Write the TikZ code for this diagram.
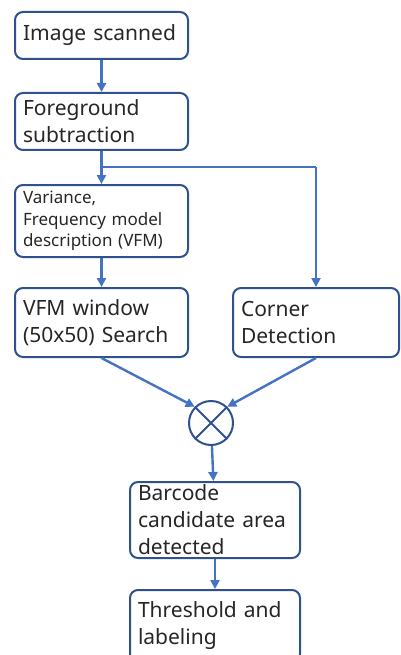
\documentclass[tikz,border=0pt]{standalone}
\usepackage{fontspec}
\setmainfont{Noto Sans}
\usetikzlibrary{arrows.meta,shapes.misc}
\definecolor{boxline}{RGB}{47,82,143}
\definecolor{arrowline}{RGB}{68,114,196}

\begin{document}
\begin{tikzpicture}[x=1pt,y=-1pt]
        \tikzstyle{every node}+=[inner sep=0pt]
        \tikzstyle{stage}=[draw=boxline, line width=2pt, rounded corners=8pt, align=left, inner xsep=8pt, font=\fontsize{21}{27}\selectfont, text=black!85]
        \tikzstyle{flow}=[draw=arrowline, line width=2.4pt, -{Triangle[length=9pt,width=9pt]}]
        \useasboundingbox (0,0) rectangle (401,655);
        \node [stage, minimum width=173pt, minimum height=47pt, text width=157pt] (scan) at (101.5,35.5) {Image scanned};
        \node [stage, minimum width=173pt, minimum height=57pt, text width=157pt] (fg) at (101.5,121.5) {Foreground\\subtraction};
        \node [stage, minimum width=173pt, minimum height=72pt, text width=157pt, font=\fontsize{17}{21.7}\selectfont] (vfm) at (101.5,221) {Variance,\\Frequency model\\description (VFM)};
        \node [stage, minimum width=173pt, minimum height=69pt, text width=157pt] (win) at (101.5,322.5) {VFM window\\(50x50) Search};
        \node [stage, minimum width=166pt, minimum height=69pt, text width=150pt] (corner) at (316,322.5) {Corner\\Detection};
        \node [draw=boxline, line width=2pt, circle, minimum size=44pt] (mult) at (211,423) {};
        \draw [boxline, line width=2pt] (mult.north west) -- (mult.south east) (mult.north east) -- (mult.south west);
        \node [stage, minimum width=170pt, minimum height=76pt, text width=154pt] (cand) at (215,520) {Barcode\\candidate area\\detected};
        \node [stage, minimum width=170pt, minimum height=72pt, text width=154pt] (thr) at (215,626) {Threshold and\\labeling};
        \coordinate (split) at (fg.south |- 0,167);
        \draw [flow] (scan) -- (scan.south |- fg.north);
        \draw [flow] (fg) -- (fg.south |- vfm.north);
        \draw [draw=arrowline, line width=2.4pt] (split) -- (split -| corner.north);
        \draw [flow] (split -| corner.north) -- (corner);
        \draw [flow] (vfm) -- (vfm.south |- win.north);
        \draw [flow] (win.south) -- (mult.north west);
        \draw [flow] (corner.south) -- (mult.north east);
        \draw [flow] (mult) -- (cand);
        \draw [flow] (cand) -- (thr);
\end{tikzpicture}
\end{document}
